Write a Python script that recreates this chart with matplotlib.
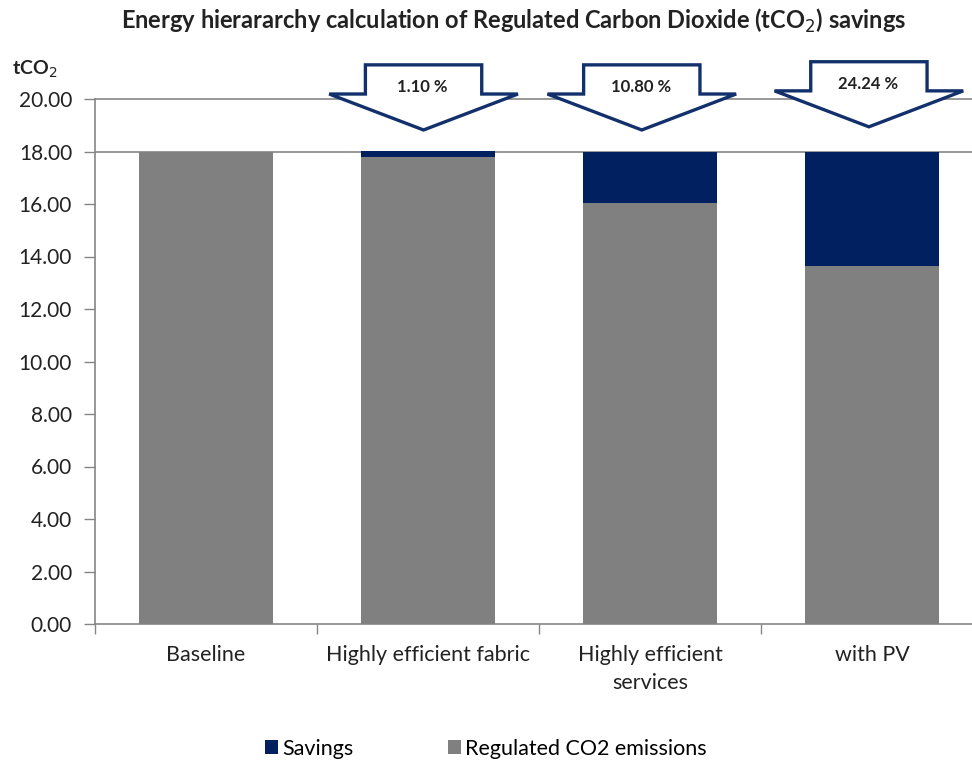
import matplotlib
matplotlib.use("Agg")
import matplotlib.pyplot as plt
from matplotlib.patches import Polygon, Patch

categories = ["Baseline", "Highly efficient fabric", "Highly efficient\nservices", "with PV"]
baseline = 18.0
savings_pct = [0.0, 1.10, 10.80, 24.24]
savings = [baseline * p / 100 for p in savings_pct]
regulated = [baseline - s for s in savings]
yticks = [0, 2, 4, 6, 8, 10, 12, 14, 16, 18, 20]

NAVY = "#002060"
GREY = "#808080"
AXIS = "#868686"
TEXT = "#222222"

plt.rcParams["font.family"] = ["Lato", "DejaVu Sans"]

fig = plt.figure(figsize=(9.72, 7.63), dpi=100)
ax = fig.add_axes([95 / 972, 1 - 624 / 763, 1 - 95 / 972, (624 - 99) / 763])

x = list(range(len(categories)))
ax.bar(x, regulated, width=0.6, color=GREY, zorder=3)
ax.bar(x, savings, width=0.6, bottom=regulated, color=NAVY, zorder=3)

ax.set_yticks(yticks)
ax.set_yticklabels([f"{v:.2f}" for v in yticks], fontsize=15, color=TEXT)
ax.set_xticks(x)
ax.set_xticklabels(categories, fontsize=15.5, color=TEXT, linespacing=1.5)
ax.tick_params(axis="x", length=0, pad=15)
ax.tick_params(axis="y", length=8, color=AXIS, width=1, pad=8.5)

# category boundary ticks on the x axis
ax.set_xticks([-0.5, 0.5, 1.5, 2.5, 3.5], minor=True)
ax.tick_params(axis="x", which="minor", length=7, color=AXIS, width=1)

# limits set after the ticks so the tick setters do not widen the view
ax.set_xlim(-0.5, -0.5 + 877 / 222)
ax.set_ylim(0, 20)

for s in ["right", "top"]:
    ax.spines[s].set_visible(False)
for s in ["left", "bottom"]:
    ax.spines[s].set_color(AXIS)
    ax.spines[s].set_linewidth(1.2)

ax.axhline(20, color=AXIS, lw=1.2, zorder=1, clip_on=False)
ax.axhline(18, color=AXIS, lw=1.2, zorder=1)

# block arrows showing percentage savings above each improved case
arrow_shift = [-0.02, -0.037, -0.014]
arrow_lift = [0.0, 0.0, 0.12]
for k, i in enumerate(range(1, len(categories))):
    cx = i + arrow_shift[k]
    dy = arrow_lift[k]
    bw, hw = 0.262, 0.425
    top, shoulder, tip = 21.3 + dy, 20.19 + dy, 18.82 + dy
    pts = [(cx - bw, top), (cx + bw, top), (cx + bw, shoulder), (cx + hw, shoulder),
           (cx, tip), (cx - hw, shoulder), (cx - bw, shoulder)]
    ax.add_patch(Polygon(pts, closed=True, facecolor="white", edgecolor="#12306B",
                         lw=2.4, zorder=5, clip_on=False, joinstyle="miter"))
    ax.text(cx - 0.005, 20.47 + dy, f"{savings_pct[i]:.2f} %", ha="center", va="center",
            fontsize=12, fontweight="bold", color=TEXT, zorder=6)

fig.text(0.529, 0.972, "Energy hierararchy calculation of Regulated Carbon Dioxide (tCO$_2$) savings",
         ha="center", va="center", fontsize=17, fontweight="bold", color=TEXT)
fig.text(0.012, 0.909, "tCO$_2$", ha="left", va="center", fontsize=14,
         fontweight="bold", color=TEXT)

handles = [Patch(facecolor=NAVY), Patch(facecolor=GREY)]
fig.legend(handles, ["Savings", "Regulated CO2 emissions"], loc="center",
           bbox_to_anchor=(0.5, 0.019), ncol=2, frameon=False, fontsize=15.5,
           handlelength=0.6, handleheight=0.6, handletextpad=0.2, columnspacing=4.4)

fig.savefig("out.png", dpi=100)
